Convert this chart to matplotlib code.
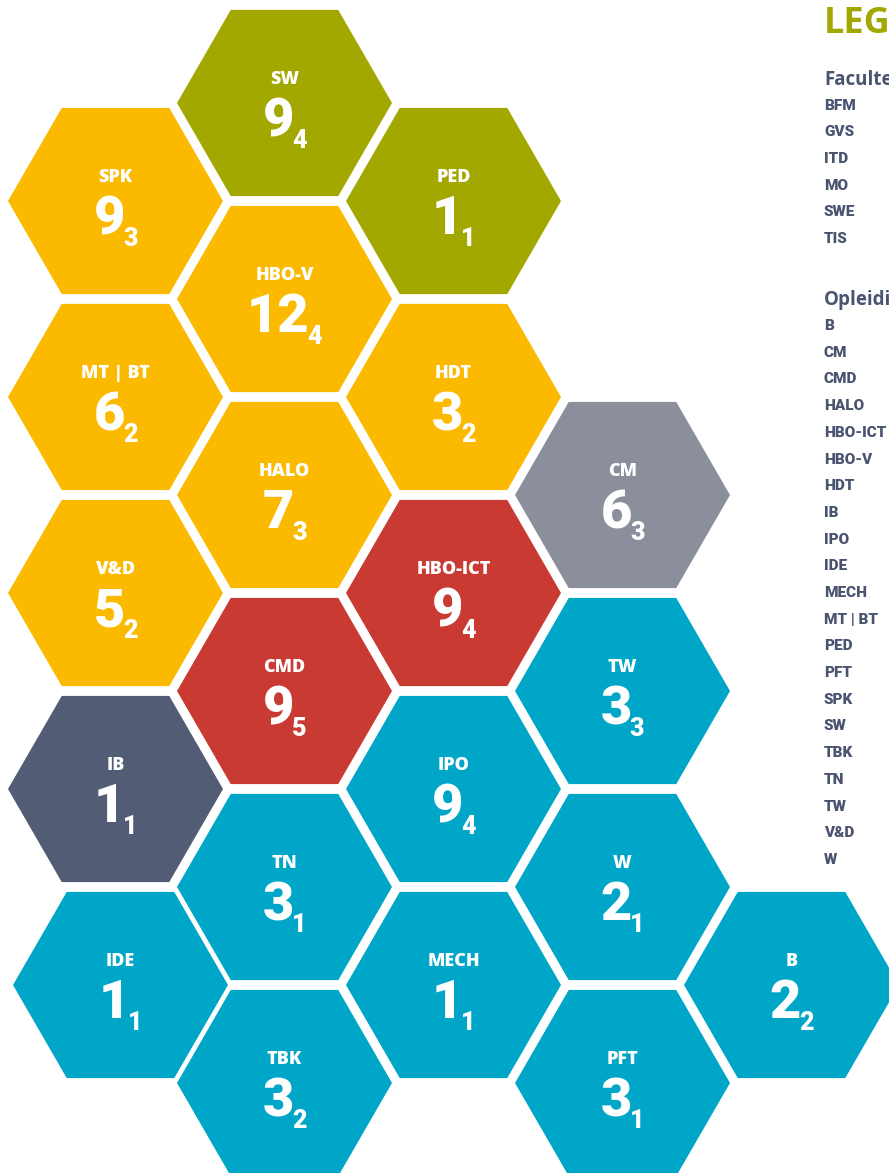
import numpy as np
import matplotlib
matplotlib.use("Agg")
import matplotlib.pyplot as plt
from matplotlib.patches import RegularPolygon

# tiles: code, column, half-row, count, sub count, faculty
codes = ["SW", "SPK", "PED", "HBO-V", "MT | BT", "HDT", "HALO", "CM", "V&D", "HBO-ICT",
         "CMD", "TW", "IB", "IPO", "TN", "W", "IDE", "MECH", "B", "TBK", "PFT"]
cols = [1, 0, 2, 1, 0, 2, 1, 3, 0, 2, 1, 3, 0, 2, 1, 3, 0, 2, 4, 1, 3]
rows = [0, 1, 1, 2, 3, 3, 4, 4, 5, 5, 6, 6, 7, 7, 8, 8, 9, 9, 9, 10, 10]
counts = [9, 9, 1, 12, 6, 3, 7, 6, 5, 9, 9, 3, 1, 9, 3, 2, 1, 1, 2, 3, 3]
subs = [4, 3, 1, 4, 2, 2, 3, 3, 2, 4, 5, 3, 1, 4, 1, 1, 1, 1, 2, 2, 1]
faculty = ["SWE", "GVS", "SWE", "GVS", "GVS", "GVS", "GVS", "MO", "GVS", "ITD",
           "ITD", "TIS", "BFM", "TIS", "TIS", "TIS", "TIS", "TIS", "TIS", "TIS", "TIS"]

faculties = ["BFM", "GVS", "ITD", "MO", "SWE", "TIS"]
opleidingen = ["B", "CM", "CMD", "HALO", "HBO-ICT", "HBO-V", "HDT", "IB", "IPO", "IDE",
               "MECH", "MT | BT", "PED", "PFT", "SPK", "SW", "TBK", "TN", "TW", "V&D", "W"]

fac_colors = {"BFM": "#525d75", "GVS": "#fbba00", "ITD": "#c83a32",
              "MO": "#8a8f9b", "SWE": "#a2a800", "TIS": "#00a6c8"}
slate = "#4a5470"

W, H = 889, 1173
fig = plt.figure(figsize=(W / 100, H / 100), dpi=100)
ax = fig.add_axes([0, 0, 1, 1])
ax.set_xlim(0, W)
ax.set_ylim(H, 0)
ax.axis("off")

R = 107.5
x0, dx = 115.5, 169
y0, dy = 103, 98
nudge = {"IDE": 5}  # that one tile sits a little to the right

renderer = fig.canvas.get_renderer()
for code, c, r, n, s, f in zip(codes, cols, rows, counts, subs, faculty):
    cx = x0 + c * dx + nudge.get(code, 0)
    cy = y0 + r * dy
    ax.add_patch(RegularPolygon((cx, cy), numVertices=6, radius=R,
                                orientation=np.pi / 6, facecolor=fac_colors[f],
                                edgecolor="none"))
    ax.text(cx, cy - 18.5, code, ha="center", va="baseline", color="white",
            fontsize=13, fontweight=800, family="Open Sans")
    big = ax.text(cx, cy + 33.5, str(n), ha="left", va="baseline", color="white",
                  fontsize=39, fontweight=900, family="Roboto")
    sm = ax.text(cx, cy + 45, str(s), ha="left", va="baseline", color="white",
                 fontsize=18, fontweight=900, family="Roboto")
    wb = big.get_window_extent(renderer).width
    ws = sm.get_window_extent(renderer).width
    gap = -2
    left = cx - (wb + gap + ws) / 2
    big.set_x(left)
    sm.set_x(left + wb + gap)

# legend (cut off by the right edge)
lx = 824
ax.text(lx, 33, "LEGENDA", color="#a2a800", fontsize=26, fontweight="bold",
        family="Open Sans", va="baseline", ha="left")
ax.text(lx, 85, "Faculteiten", color=slate, fontsize=13.5, fontweight="bold",
        family="Open Sans", va="baseline", ha="left")
for i, name in enumerate(faculties):
    ax.text(lx, 109.5 + i * 26.7, name, color=slate, fontsize=11, fontweight=900,
            family="Roboto", va="baseline", ha="left")
ax.text(lx, 305, "Opleidingen", color=slate, fontsize=13.5, fontweight="bold",
        family="Open Sans", va="baseline", ha="left")
for i, name in enumerate(opleidingen):
    ax.text(lx, 330 + i * 26.7, name, color=slate, fontsize=11, fontweight=900,
            family="Roboto", va="baseline", ha="left")

fig.savefig("out.png", dpi=100)
